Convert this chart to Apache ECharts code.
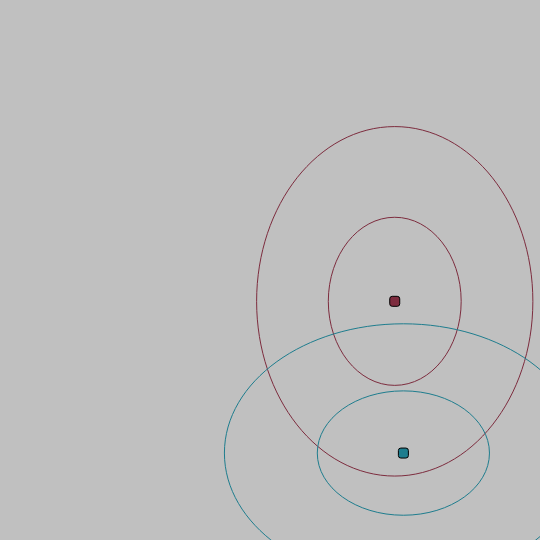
<!DOCTYPE html>
<html>
<head>
<meta charset="utf-8">
<script src="https://cdn.jsdelivr.net/npm/echarts@6/dist/echarts.min.js"></script>
<style>
  html, body { margin: 0; padding: 0; background: #c0c0c0; }
  #main { width: 540px; height: 540px; }
</style>
</head>
<body>
<div id="main"></div>
<script>
// group summaries: mean and standard deviation on each axis
var groups = ['A', 'B']
var meanX = [73.1, 74.7]
var meanY = [44.2, 16.1]
var sdX = [10.45, 13.54]
var sdY = [13.22, 9.78]
// confidence levels drawn as ellipses
var levels = [0.5, 0.95]
var colors = ['#7d2c3e', '#1e7d8e']

var myChart = echarts.init(document.getElementById('main'))

var series = []
groups.forEach(function (g, gi) {
    var rows = levels.map(function (p) {
        var k = Math.sqrt(-2 * Math.log(1 - p))
        return [meanX[gi], meanY[gi], sdX[gi] * k, sdY[gi] * k]
    })
    series.push({
        name: g + ' ellipse',
        type: 'custom',
        silent: true,
        clip: true,
        data: rows,
        renderItem: function (params, api) {
            var c = api.coord([api.value(0), api.value(1)])
            var s = api.size([api.value(2), api.value(3)])
            return {
                type: 'ellipse',
                shape: { cx: c[0], cy: c[1], rx: s[0], ry: s[1] },
                style: { fill: null, stroke: colors[gi], lineWidth: 1 }
            }
        },
        z: 1
    })
    series.push({
        name: g,
        type: 'scatter',
        symbol: 'roundRect',
        symbolSize: 10,
        itemStyle: { color: colors[gi], borderColor: '#000', borderWidth: 1, opacity: 1 },
        data: [[meanX[gi], meanY[gi]]],
        z: 3
    })
})

myChart.setOption({
    backgroundColor: '#c0c0c0',
    animation: false,
    grid: { left: 0, right: 0, top: 0, bottom: 0 },
    xAxis: { type: 'value', min: 0, max: 100, show: false },
    yAxis: { type: 'value', min: 0, max: 100, show: false },
    series: series
})
</script>
</body>
</html>
